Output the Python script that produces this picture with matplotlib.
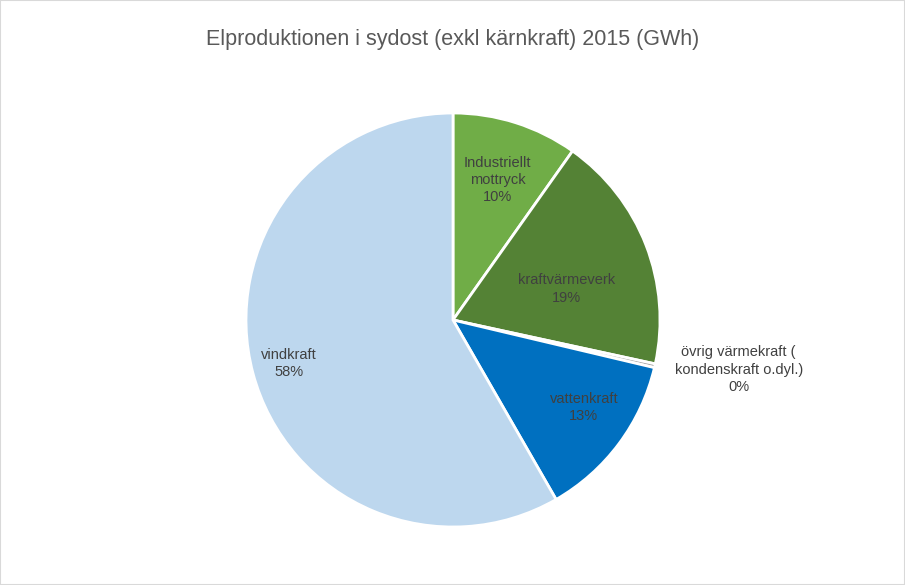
import matplotlib
matplotlib.use("Agg")
import matplotlib.pyplot as plt
import numpy as np

plt.rcParams['font.family'] = ['Liberation Sans', 'DejaVu Sans']

# andel av elproduktionen, procent
categories = ['Industriellt\nmottryck', 'kraftvärmeverk', 'övrig värmekraft (\nkondenskraft o.dyl.)',
              'vattenkraft', 'vindkraft']
values = [9.8, 18.6, 0.3, 13.0, 58.3]
pct_labels = ['10%', '19%', '0%', '13%', '58%']
colors = ['#70AD47', '#548235', '#A5A5A5', '#0070C0', '#BDD7EE']
# label radius and text colour per slice
label_r = [0.71, 0.57, 1.38, 0.76, 0.82]
label_ang_shift = [0, -6, 0, 3, 0]

fig = plt.figure(figsize=(9.05, 5.85), dpi=100)
fig.patches.append(plt.Rectangle((0, 0), 1, 1, transform=fig.transFigure,
                                 fill=False, edgecolor='#D9D9D9', linewidth=1.5))
fig.text(0.5, 1 - 40 / 585, 'Elproduktionen i sydost (exkl kärnkraft) 2015 (GWh)',
         ha='center', va='center', fontsize=15.5, color='#595959')

ax = fig.add_axes([(453 - 207) / 905, (585 - 320 - 207) / 585, 414 / 905, 414 / 585])
wedges, _ = ax.pie(values, colors=colors, startangle=90, counterclock=False, radius=1,
                   wedgeprops=dict(edgecolor='white', linewidth=2))
ax.set_xlim(-1, 1)
ax.set_ylim(-1, 1)

for w, cat, p, r, s in zip(wedges, categories, pct_labels, label_r, label_ang_shift):
    ang = np.deg2rad((w.theta1 + w.theta2) / 2 + s)
    x, y = r * np.cos(ang), r * np.sin(ang)
    if cat.startswith('övrig'):
        x, y = 1.38, -0.24
    ax.text(x, y, cat + '\n' + p, ha='center', va='center', fontsize=10.5,
            color='#404040', linespacing=1.3, clip_on=False)

fig.savefig('out.png', dpi=100)
